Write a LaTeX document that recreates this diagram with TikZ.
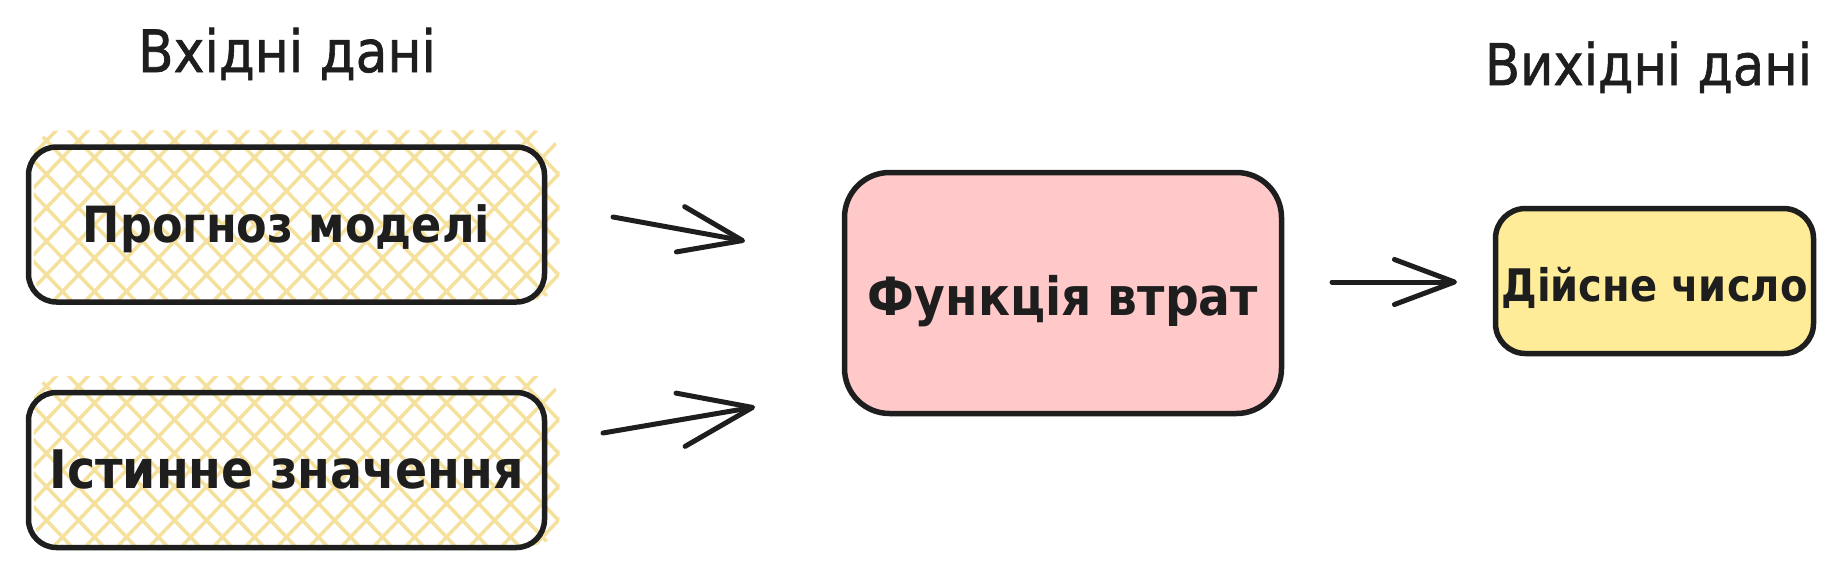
\documentclass[tikz,border=0pt]{standalone}
\usepackage{fontspec}
\setmainfont{DejaVu Sans}
\newfontfamily\headfont{DejaVu Sans}[FakeBold=1.2]
\usetikzlibrary{arrows.meta}
\pgfdeclarelayer{bg}
\pgfsetlayers{bg,main}
\definecolor{inkc}{HTML}{1E1E1E}
\definecolor{hatchc}{HTML}{F5E19C}
\definecolor{pinkc}{HTML}{FFC9C9}
\definecolor{yelc}{HTML}{FFEC99}
\newcommand{\fitw}[2]{\scalebox{1}[1.12]{\resizebox{#1}{!}{#2}}}
\begin{document}
\begin{tikzpicture}[x=1pt,y=-1pt,
  box/.style={draw=inkc, line width=5.5pt, inner sep=0pt, text=inkc,
    font=\bfseries, text depth=0pt},
  heading/.style={text=inkc, anchor=base, inner sep=0pt, font=\headfont},
  conn/.style={draw=inkc, line width=5pt, line cap=round},
  hatchline/.style={draw=hatchc, line width=3.5pt}
]
\useasboundingbox (0,0) rectangle (1836,576);

% headings
\node[heading] (hin) at (287,72) {\fitw{298pt}{Вхідні дані}};
\node[heading] (hout) at (1648.5,85) {\fitw{327pt}{Вихідні дані}};

% boxes
\node[box, rounded corners=28pt, minimum width=516pt, minimum height=155pt, text height=35pt] (A) at (286.5,224.5) {\fitw{407pt}{Прогноз моделі}};
\node[box, rounded corners=28pt, minimum width=516pt, minimum height=155pt, text height=36pt] (B) at (286.5,470) {\fitw{474pt}{Істинне значення}};
\node[box, fill=pinkc, rounded corners=45pt, minimum width=437pt, minimum height=241pt, text height=44pt] (C) at (1063,293) {\fitw{390pt}{Функція втрат}};
\node[box, fill=yelc, rounded corners=30pt, minimum width=318pt, minimum height=145pt, text height=40pt] (D) at (1654.5,281) {\fitw{306pt}{Дійсне число}};

% background and hatching of the input boxes
\begin{pgfonlayer}{bg}
\fill[white] (0,0) rectangle (1836,576);
\foreach \bx in {A,B}{
  \begin{scope}
    \clip[rounded corners=26pt] ([shift={(8,-14)}]\bx.north west) rectangle ([shift={(12,-5)}]\bx.south east);
    \foreach \k in {-22,...,22}{
      \draw[hatchline] ([shift={({\k*32-210},-220)}]\bx.center) -- ++(420,440);
      \draw[hatchline] ([shift={({\k*32+210},-220)}]\bx.center) -- ++(-420,440);
    }
  \end{scope}
}
\end{pgfonlayer}

% connectors
\coordinate (a1s) at (613,217);
\coordinate (a1e) at (745,241);
\coordinate (a2s) at (603,433);
\coordinate (a2e) at (755,407);
\coordinate (a3s) at (1332,282);
\coordinate (a3e) at (1457,282);
\draw[conn, -{Straight Barb[length=63pt, width=46pt, round]}] (a1s) -- (a1e);
\draw[conn, -{Straight Barb[length=73pt, width=54pt, round]}] (a2s) -- (a2e);
\draw[conn, -{Straight Barb[length=60pt, width=45pt, round]}] (a3s) -- (a3e);
\end{tikzpicture}
\end{document}
